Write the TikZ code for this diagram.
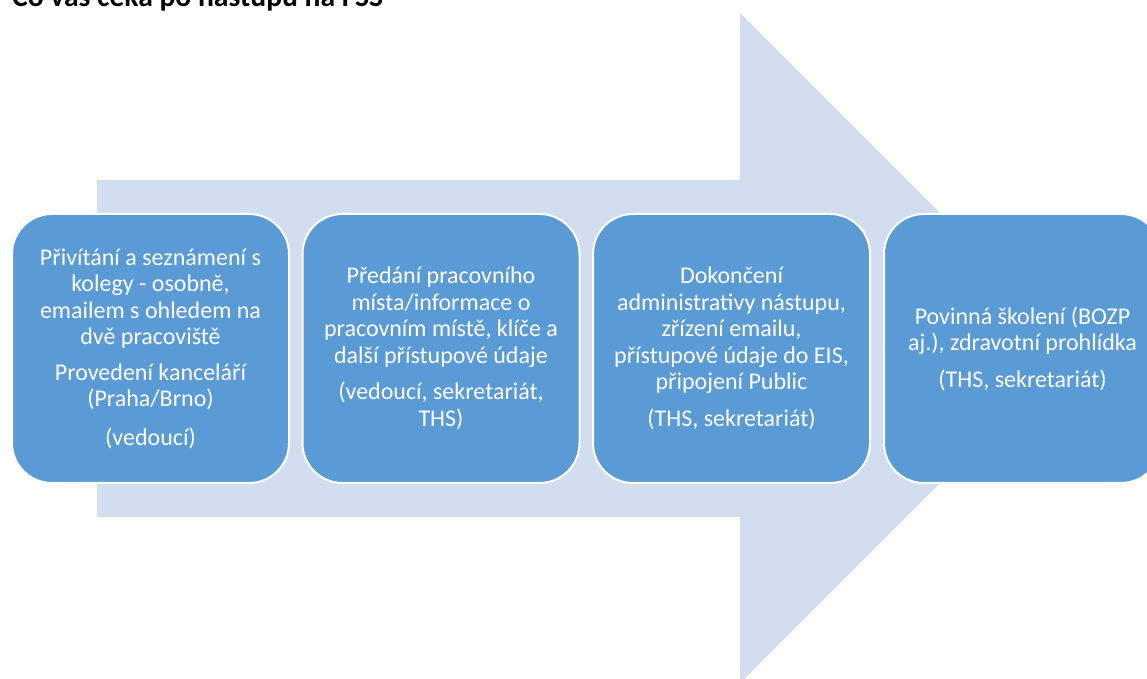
\documentclass[tikz,border=0pt]{standalone}
\usepackage{fontspec}
\setmainfont{Carlito}
\definecolor{arrowfill}{RGB}{210,222,239}
\definecolor{boxfill}{RGB}{91,155,213}
\tikzset{
  stepbox/.style={draw=white, line width=2pt, fill=boxfill, rounded corners=40pt,
    minimum width=277pt, minimum height=269pt, inner sep=0pt,
    text=white, align=center, font=\fontsize{24}{26.5}\selectfont},
  titletext/.style={anchor=base west, inner sep=0pt, font=\bfseries\fontsize{29.6}{32}\selectfont}
}
\begin{document}
\begin{tikzpicture}[x=1pt,y=1pt]
\useasboundingbox (0,0) rectangle (1147,679);
\clip (0,0) rectangle (1147,679);
\fill[white] (0,0) rectangle (1147,679);
\node[titletext] (title) at (12,672) {Co vás čeká po nástupu na FSS};
\fill[arrowfill] (97,499) -- (740,499) -- (740,666) -- (1075,331) -- (740,-4) -- (740,162) -- (97,162) -- cycle;
\node[stepbox] (s1) at (150.5,330.5) {Přivítání a seznámení s\\kolegy - osobně,\\emailem s ohledem na\\dvě pracoviště\\[9pt]Provedení kanceláří\\(Praha/Brno)\\[12pt](vedoucí)};
\node[stepbox] (s2) at (441,330.5) {Předání pracovního\\místa/informace o\\pracovním místě, klíče a\\další přístupové údaje\\[10pt](vedoucí, sekretariát,\\THS)};
\node[stepbox] (s3) at (731.5,330.5) {Dokončení\\administrativy nástupu,\\zřízení emailu,\\přístupové údaje do EIS,\\připojení Public\\[10pt](THS, sekretariát)};
\node[stepbox] (s4) at (1022.5,330.5) {Povinná školení (BOZP\\aj.), zdravotní prohlídka\\[10pt](THS, sekretariát)};
\end{tikzpicture}
\end{document}
